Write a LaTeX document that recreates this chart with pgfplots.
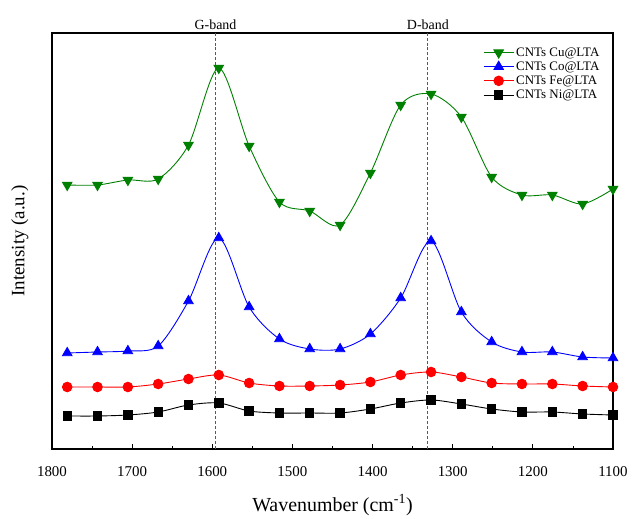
\documentclass[border=0pt]{standalone}
\usepackage{pgfplots}
\pgfplotsset{compat=1.18}
\usepackage{fontspec}
\setmainfont{Liberation Serif}
\usetikzlibrary{calc}

\definecolor{cugreen}{RGB}{0,128,0}
\definecolor{coblue}{RGB}{0,0,255}
\definecolor{fered}{RGB}{255,0,0}

\begin{document}
\begin{tikzpicture}
\begin{axis}[
    scale only axis,
    width=561bp, height=416bp,
    x dir=reverse,
    xmin=1100, xmax=1800,
    ymin=0, ymax=416,
    xtick={1100,1200,...,1800},
    minor x tick num=1,
    ytick=\empty,
    xtick pos=bottom,
    tick align=inside,
    major tick length=5bp,
    minor tick length=3bp,
    axis line style={line width=1.1pt},
    every tick/.style={black, line width=0.8pt},
    /pgf/number format/assume math mode=true,
    /pgf/number format/1000 sep={},
    ticklabel style={font=\fontsize{15}{17}\selectfont},
    xticklabel style={yshift=-14bp},
    xlabel={Wavenumber (cm\textsuperscript{-1})},
    ylabel={Intensity (a.u.)},
    xlabel style={font=\fontsize{20}{22}\selectfont, yshift=-11bp},
    ylabel style={font=\fontsize{19}{21}\selectfont, yshift=20bp},
    clip=false,
    legend style={draw=none, fill=none, at={(0.985,0.975)}, anchor=north east,
        font=\fontsize{13}{14}\selectfont, row sep=0bp,
        /tikz/every even column/.append style={column sep=2bp}},
    legend cell align=left,
    legend image code/.code={
        \draw[mark repeat=2, mark phase=2] plot coordinates {(0bp,0bp) (15bp,0bp) (30bp,0bp)};
    },
]

% dashed band markers
\addplot[forget plot, densely dashed, gray!70!black, line width=0.9pt] coordinates {(1596,0) (1596,416)};
\addplot[forget plot, densely dashed, gray!70!black, line width=0.9pt] coordinates {(1331,0) (1331,416)};

% CNTs Cu@LTA
\addplot[cugreen, line width=0.9pt, smooth, mark=triangle*, mark size=5.5bp,
    mark options={rotate=180, solid, fill=cugreen}] coordinates {
    (1781,264) (1743.2,264) (1705.3,269) (1667.5,270) (1629.7,304)
    (1591.9,381) (1554,303) (1516.2,247) (1478.4,238) (1440.5,224)
    (1402.7,276) (1364.9,344) (1327,355) (1289.2,332) (1251.4,272)
    (1213.6,254) (1175.7,254) (1137.9,245) (1100,260)
};
\addlegendentry{CNTs Cu@LTA}

% CNTs Co@LTA
\addplot[coblue, line width=0.9pt, smooth, mark=triangle*, mark size=5.5bp,
    mark options={solid, fill=coblue}] coordinates {
    (1781,96) (1743.2,97) (1705.3,98) (1667.5,103) (1629.7,148)
    (1591.9,211) (1554,142) (1516.2,110) (1478.4,100) (1440.5,100)
    (1402.7,115) (1364.9,151) (1327,208) (1289.2,137) (1251.4,107)
    (1213.6,97) (1175.7,97) (1137.9,92) (1100,91)
};
\addlegendentry{CNTs Co@LTA}

% CNTs Fe@LTA
\addplot[fered, line width=0.9pt, smooth, mark=*, mark size=4.8bp,
    mark options={solid, fill=fered}] coordinates {
    (1781,62) (1743.2,62) (1705.3,62) (1667.5,65) (1629.7,70)
    (1591.9,74) (1554,66) (1516.2,63) (1478.4,63) (1440.5,64)
    (1402.7,67) (1364.9,74) (1327,77) (1289.2,72) (1251.4,66)
    (1213.6,65) (1175.7,65) (1137.9,63) (1100,62)
};
\addlegendentry{CNTs Fe@LTA}

% CNTs Ni@LTA
\addplot[black, line width=0.9pt, smooth, mark=square*, mark size=4.2bp,
    mark options={solid, fill=black}] coordinates {
    (1781,33) (1743.2,33) (1705.3,34) (1667.5,37) (1629.7,44)
    (1591.9,46) (1554,38) (1516.2,36) (1478.4,36) (1440.5,36)
    (1402.7,40) (1364.9,46) (1327,49) (1289.2,45) (1251.4,40)
    (1213.6,37) (1175.7,37) (1137.9,35) (1100,34)
};
\addlegendentry{CNTs Ni@LTA}

\node[above, font=\fontsize{14}{15}\selectfont, inner sep=3bp] at (axis cs:1596,416) {G-band};
\node[above, font=\fontsize{14}{15}\selectfont, inner sep=3bp] at (axis cs:1331,416) {D-band};
\end{axis}
\path[use as bounding box] ($(current axis.south west)+(-52bp,-67bp)$) rectangle ($(current axis.north east)+(20bp,33bp)$);
\end{tikzpicture}
\end{document}
